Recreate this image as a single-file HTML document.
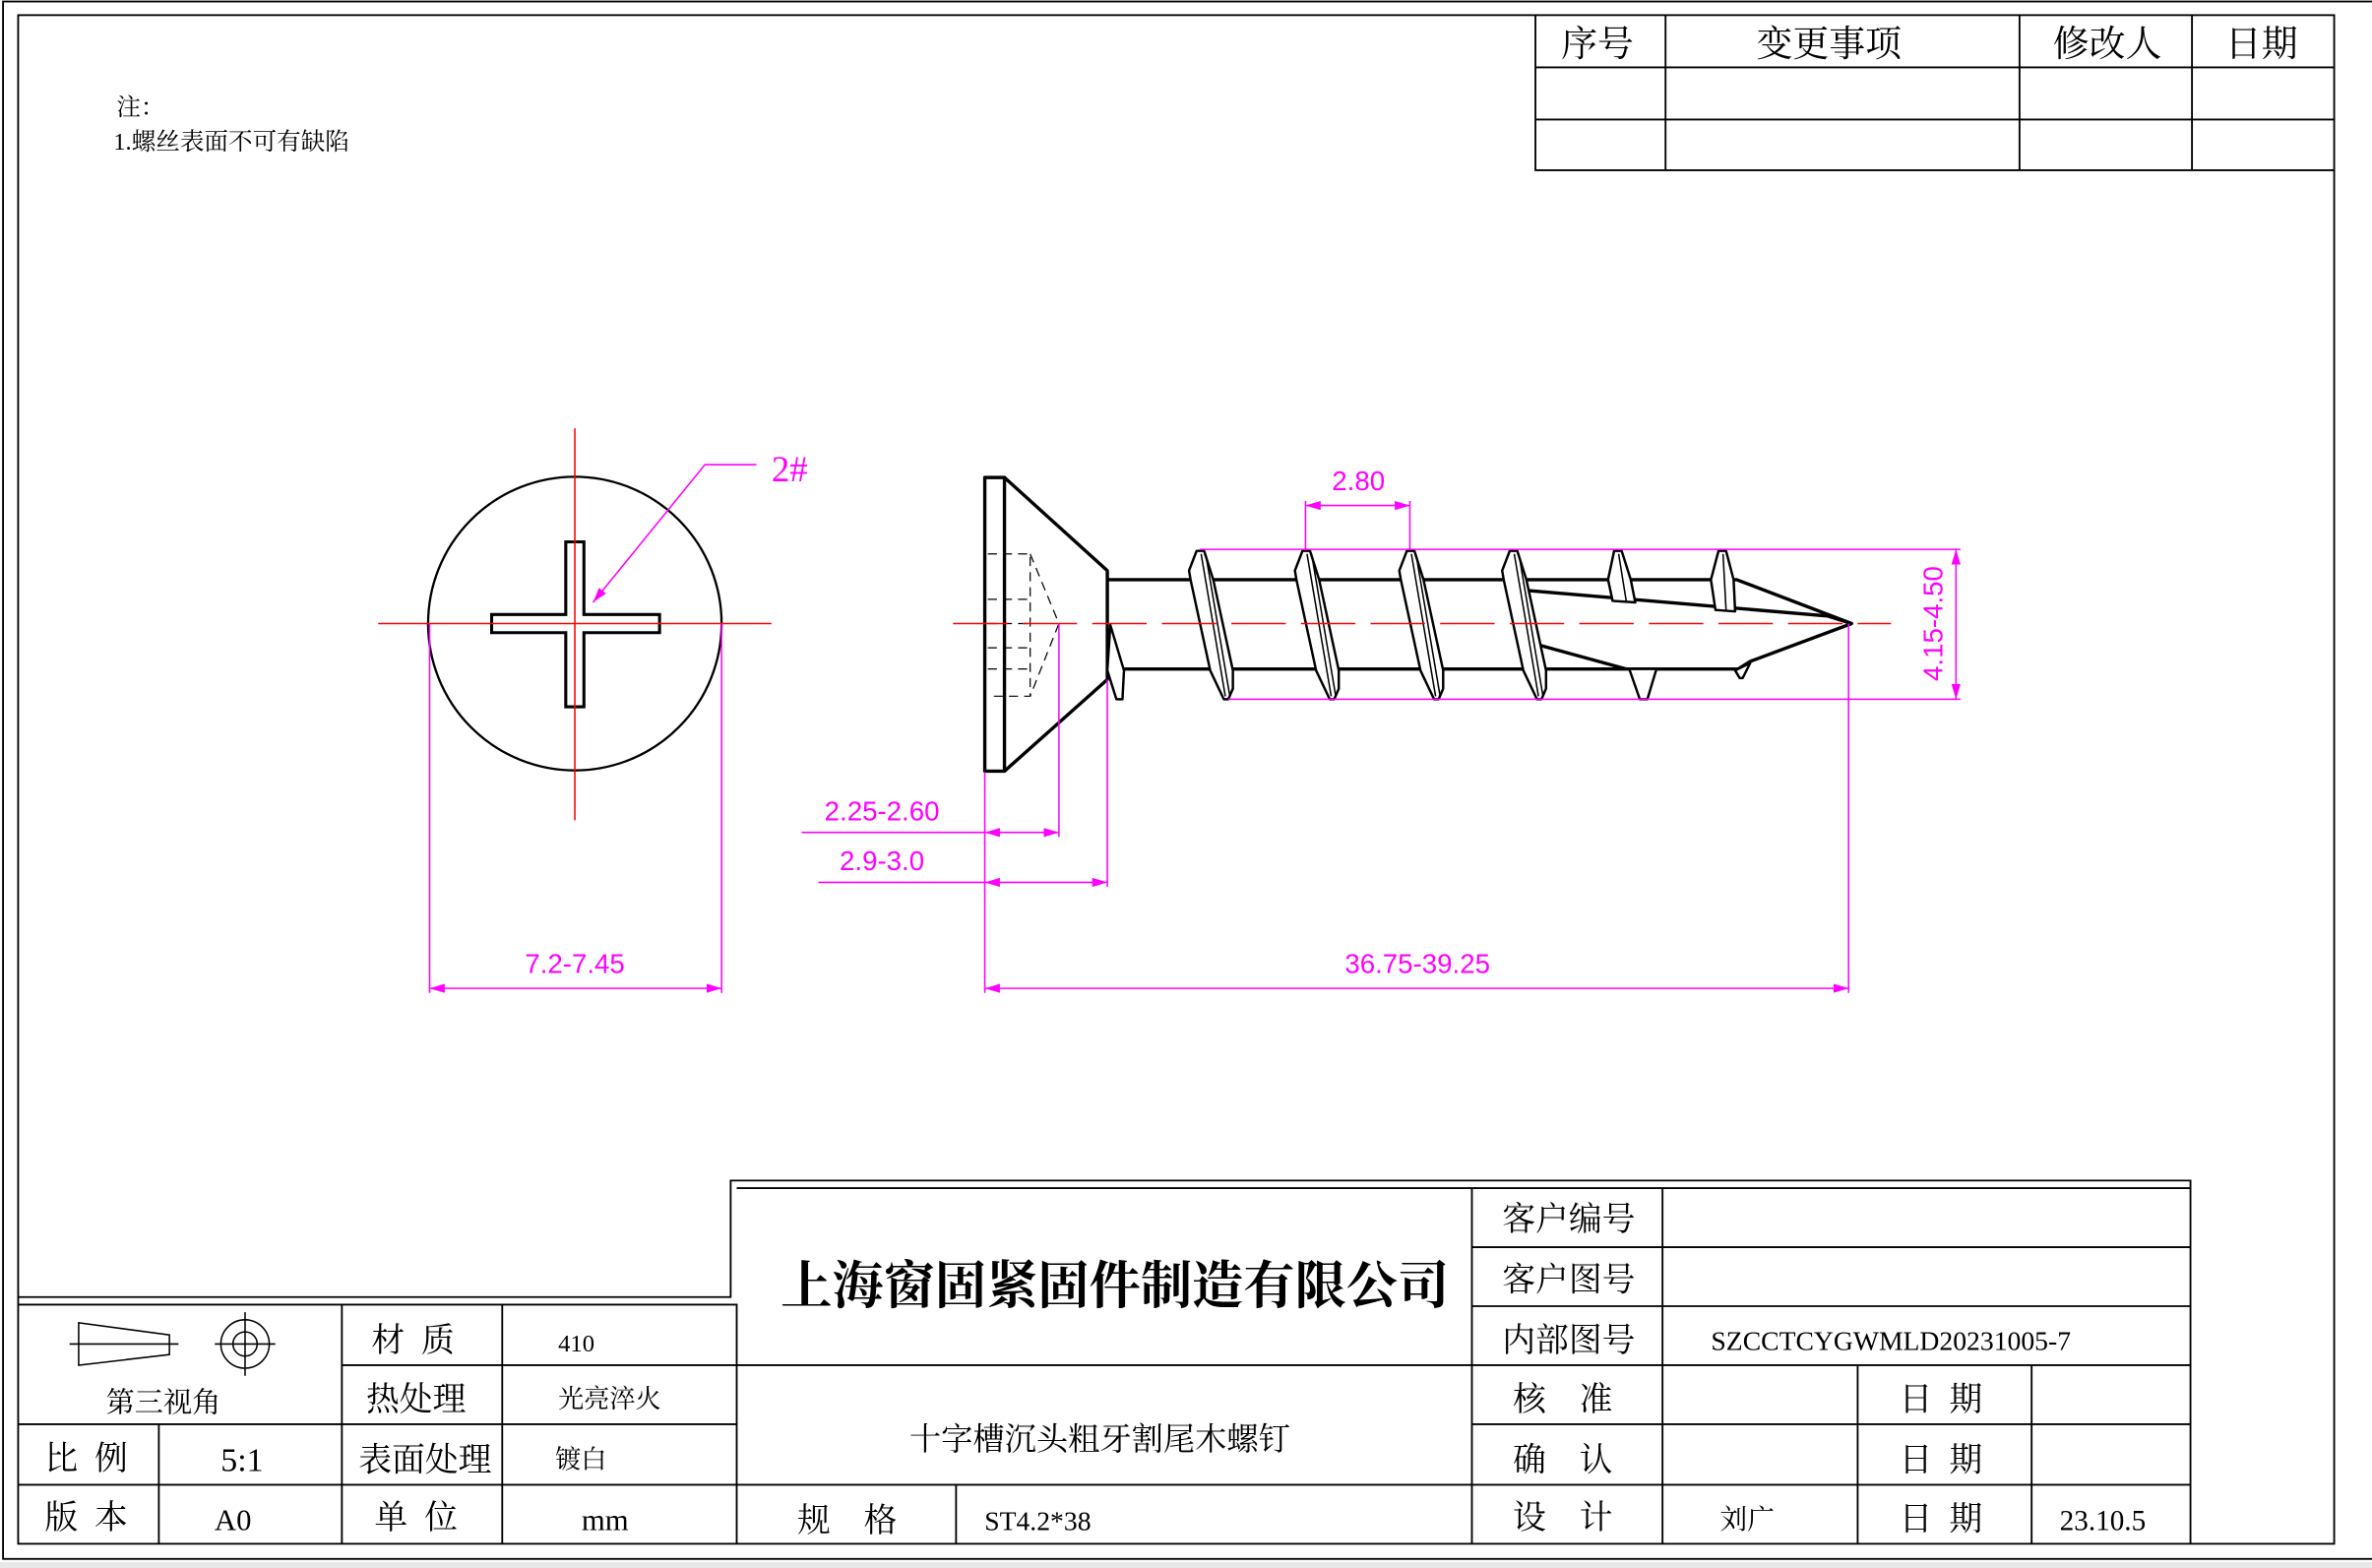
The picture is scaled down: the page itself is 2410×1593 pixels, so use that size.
<!DOCTYPE html>
<html><head><meta charset="utf-8"><style>
html,body{margin:0;padding:0;background:#fff;overflow:hidden}
svg{display:block}
text{font-family:"Liberation Serif","Noto Serif CJK SC",serif;white-space:pre}
.m{fill:#f0f;font-family:"Liberation Sans",sans-serif;font-size:18px;text-anchor:middle;font-weight:300}
.t{font-size:22px;fill:#000}
</style></head><body>
<svg width="2410" height="1593" viewBox="0 0 1568 1036" preserveAspectRatio="none" xmlns="http://www.w3.org/2000/svg" xml:space="preserve">
<defs>
<marker id="a" viewBox="0 0 10 6" refX="10" refY="3" markerWidth="10" markerHeight="6" orient="auto-start-reverse" markerUnits="userSpaceOnUse"><path d="M0,0L10,3L0,6z" fill="#f0f"/></marker>
</defs>
<rect x="0" y="0" width="1568" height="1036" fill="#fff"/>
<rect x="0" y="1032" width="1568" height="4" fill="#e8e8e8"/>
<rect x="2" y="1" width="1575" height="1029" fill="none" stroke="#000" stroke-width="1.2"/>
<rect x="12" y="10" width="1531" height="1010" fill="none" stroke="#000" stroke-width="1.2"/>
<text x="77" y="76" font-size="16">注：</text>
<text x="75" y="99" font-size="16">1.螺丝表面不可有缺陷</text>
<g stroke="#000" stroke-width="1.2" fill="none">
<path d="M1015 10V112.5H1543M1015 44.5H1543M1015 79H1543M1101 10V112.5M1335 10V112.5M1449 10V112.5"/>
</g>
<g class="t">
<text x="1056" y="37" text-anchor="middle" font-size="24">序号</text>
<text x="1209" y="37" text-anchor="middle" font-size="24">变更事项</text>
<text x="1393" y="37" text-anchor="middle" font-size="24">修改人</text>
<text x="1495" y="37" text-anchor="middle" font-size="24">日期</text>
</g>
<circle cx="380" cy="412" r="97" fill="none" stroke="#000" stroke-width="1.5"/>
<path d="M374 358H386V406H436V418H386V467H374V418H325V406H374Z" fill="none" stroke="#000" stroke-width="2"/>
<path d="M250 412H510M380 283V542" stroke="#f00" stroke-width="1"/>
<path d="M500 307H466L392 398" stroke="#f0f" fill="none" stroke-width="1" marker-end="url(#a)"/>
<text x="522" y="318" fill="#f0f" font-family="Liberation Sans,sans-serif" font-size="24" font-weight="300" text-anchor="middle">2#</text>
<path d="M284 412V656M477 412V656" stroke="#f0f" stroke-width="1"/>
<path d="M284 653H477" stroke="#f0f" stroke-width="1" marker-start="url(#a)" marker-end="url(#a)"/>
<text class="m" x="380" y="643">7.2-7.45</text>
<g stroke="#000" stroke-width="2.2" fill="none" stroke-linejoin="round">
<rect x="651" y="315.5" width="13" height="194"/>
<path d="M664 315.5L732 377V449L664 509.5"/>
<path d="M732 383H1131L1148 383L1224 412L1157 437L1149 442H732"/>
<path d="M1008 390L1208 407L1224 412M1013 425L1075 442"/>
</g>
<g stroke="#000" stroke-width="0.8" fill="none" stroke-dasharray="6,4">
<path d="M653 366H681V460H653M653 396H681M653 412H681M653 442H681M653 428H681"/>
<path d="M681 366L700 412L681 460"/>
</g>
<g stroke="#000" stroke-width="1.6" fill="#fff" stroke-linejoin="round">
<polygon points="791,364 796,364 802,383 815,443 815,455 812,462 809,462 800,443 787,383 786,377"/>
<polygon points="861,364 866,364 872,383 885,443 885,455 882,462 879,462 870,443 857,383 856,377"/>
<polygon points="930,364 935,364 941,383 954,443 954,455 951,462 948,462 939,443 926,383 925,377"/>
<polygon points="998,364 1003,364 1009,383 1022,443 1022,455 1019,462 1016,462 1007,443 994,383 993,377"/>
<polygon points="1067,364 1072,364 1078,383 1081,398 1066,397 1063,383"/>
<polygon points="1136,364 1141,364 1146,383 1147,404 1134,403 1131,383"/>
<polygon points="734,413 743,443 742,462 738,462 732,443"/>
<polygon points="1077,442 1095,442 1089,462 1084,462"/>
<polygon points="1147,443 1157,438 1152,448 1150,448"/>
</g>
<g stroke="#000" stroke-width="1" fill="none">
<path d="M794 366L810 460M797 366L813 460M864 366L880 460M867 366L883 460M933 366L949 460M936 366L952 460M1001 366L1017 460M1004 366L1020 460M1070 366L1075 397M1139 366L1141 403"/>
</g>
<path d="M630 412H1250" stroke="#f00" stroke-width="1" stroke-dasharray="36,10"/>
<g stroke="#f0f" stroke-width="1" fill="none">
<path d="M863 363V331M932 363V331"/>
<path d="M793 363H1296M812 462H1296"/>
<path d="M700 412V553M651 510V656M732 449V586M1222 412V656"/>
<path d="M530 550H651M541 583H651"/>
</g>
<g stroke="#f0f" stroke-width="1" fill="none">
<path d="M863 334H932" marker-start="url(#a)" marker-end="url(#a)"/>
<path d="M1293 363V462" marker-start="url(#a)" marker-end="url(#a)"/>
<path d="M651 550H700" marker-start="url(#a)" marker-end="url(#a)"/>
<path d="M651 583H732" marker-start="url(#a)" marker-end="url(#a)"/>
<path d="M651 653H1222" marker-start="url(#a)" marker-end="url(#a)"/>
</g>
<text class="m" x="898" y="324">2.80</text>
<text class="m" x="583" y="542">2.25-2.60</text>
<text class="m" x="583" y="575">2.9-3.0</text>
<text class="m" x="937" y="643">36.75-39.25</text>
<text class="m" transform="translate(1284,412) rotate(-90)">4.15-4.50</text>
<g stroke="#000" stroke-width="1.2" fill="none">
<path d="M12 857H483V780H1448V1020M12 862H487V1020M487 785H1448"/>
<path d="M12 941H487M12 981H1448M226 902H487M487 902H1448M973 824H1448M973 863H1448M973 941H1448"/>
<path d="M105 941V1020M226 862V1020M332 862V1020M632 981V1020M973 785V1020M1099 785V1020M1228 902V1020M1343 902V1020"/>
</g>
<g stroke="#000" stroke-width="1" fill="none">
<path d="M52 874L112 882V895L52 902ZM46 888H118"/>
<circle cx="162" cy="888" r="16"/><circle cx="162" cy="888" r="8"/>
<path d="M142 888H182M162 867V909"/>
</g>
<g class="t" text-anchor="middle">
<text x="108" y="933" font-size="19">第三视角</text>
<text x="273" y="893">材  质</text>
<text x="381" y="893" font-size="16">410</text>
<text x="275" y="932">热处理</text>
<text x="403" y="930" font-size="17">光亮淬火</text>
<text x="57" y="971">比  例</text>
<text x="160" y="972">5:1</text>
<text x="281" y="972">表面处理</text>
<text x="384" y="970" font-size="17">镀白</text>
<text x="57" y="1010">版  本</text>
<text x="154" y="1011" font-size="20">A0</text>
<text x="275" y="1010">单  位</text>
<text x="400" y="1011" font-size="20">mm</text>
<text x="560" y="1012">规    格</text>
<text x="686" y="1011" font-size="18">ST4.2*38</text>
<text x="737" y="861" font-size="34" font-weight="bold">上海窗固紧固件制造有限公司</text>
<text x="727" y="958" font-size="21">十字槽沉头粗牙割尾木螺钉</text>
<text x="1037" y="813">客户编号</text>
<text x="1037" y="853">客户图号</text>
<text x="1037" y="893">内部图号</text>
<text x="1250" y="892" font-size="18">SZCCTCYGWMLD20231005-7</text>
<text x="1033" y="932">核    准</text>
<text x="1033" y="972">确    认</text>
<text x="1033" y="1010">设    计</text>
<text x="1155" y="1010" font-size="18">刘广</text>
<text x="1283" y="932">日  期</text>
<text x="1283" y="972">日  期</text>
<text x="1283" y="1011">日  期</text>
<text x="1390" y="1011" font-size="19">23.10.5</text>
</g>
</svg>
</body></html>
